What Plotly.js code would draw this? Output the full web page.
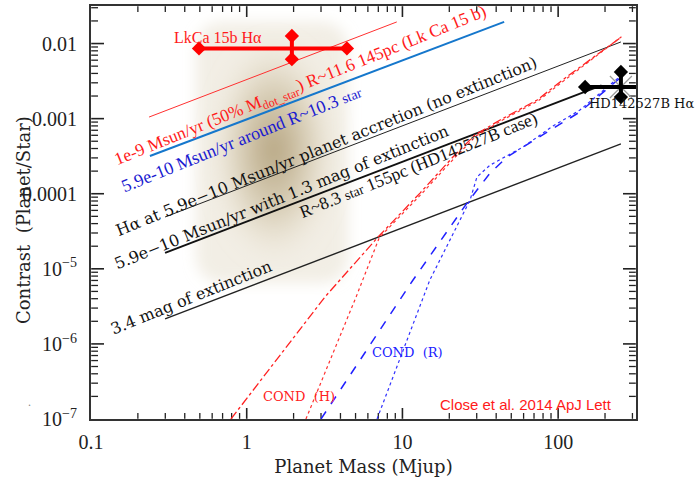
<!DOCTYPE html>
<html>
<head>
<meta charset="utf-8">
<script src="https://cdn.plot.ly/plotly-3.0.1.min.js"></script>
<style>html,body{margin:0;padding:0;background:#fff;}#chart{width:695px;height:478px;}</style>
</head>
<body>
<div id="chart"></div>
<script>
// ---- data ----
const massTickVals = [0.1, 1, 10, 100];
const massTickText = ['0.1', '1', '10', '100'];
const contrastTickVals = [1e-2, 1e-3, 1e-4, 1e-5, 1e-6, 1e-7];
const contrastTickText = ['0.01', '0.001', '0.0001', '10<sup>−5</sup>', '10<sup>−6</sup>', '10<sup>−7</sup>'];

// straight accretion-rate lines
const acc1e9Mass = [0.236, 9.2];
const acc1e9Contrast = [0.00105, 0.0194];
const acc59Mass = [0.239, 45];
const acc59Contrast = [0.000318, 0.0194];
const haNoExtMass = [0.299, 253];
const haNoExtContrast = [4.9e-5, 0.0105];
const ext13Mass = [0.299, 190];
const ext13Contrast = [1.63e-5, 2.77e-3];
const ext34Mass = [0.299, 253];
const ext34Contrast = [2.15e-6, 4.6e-4];

// COND model curves
const condHDashMass = [0.792, 3.18, 6.97, 12.97, 21.1, 29.2, 42.4, 73.3, 111, 250];
const condHDashContrast = [1e-7, 4.22e-6, 2.65e-5, 1.02e-4, 3.08e-4, 6.05e-4, 9.6e-4, 1.77e-3, 3.48e-3, 0.0119];
const condHDotMass = [2.40, 5.04, 7.1, 13.3, 21.6, 29.8, 43.2, 74.5, 113, 255];
const condHDotContrast = [1e-7, 4.22e-6, 2.6e-5, 1.0e-4, 3.0e-4, 5.9e-4, 9.4e-4, 1.73e-3, 3.4e-3, 0.0123];
const condRDashMass = [3.0, 11.7, 26.0, 36.6, 47.0, 92.7, 138, 250];
const condRDashContrast = [1e-7, 7.1e-6, 7.53e-5, 1.89e-4, 3.08e-4, 7.5e-4, 1.23e-3, 3.48e-3];
const condRDotMass = [6.87, 15.0, 27.2, 30.1, 36.6, 47.0, 59.6, 92.7, 138, 243];
const condRDotContrast = [1e-7, 7.1e-6, 8.26e-5, 1.67e-4, 2.41e-4, 3.18e-4, 4.2e-4, 7.98e-4, 1.30e-3, 3.48e-3];

// measured points with error ranges
const lkcaMass = 1.95, lkcaMassLo = 0.494, lkcaMassHi = 4.4;
const lkcaContrast = 0.0086, lkcaContrastLo = 0.0062, lkcaContrastHi = 0.0126;
const hdMass = 253, hdMassLo = 149, hdMassHi = 336;
const hdContrast = 0.00264, hdContrastLo = 0.00194, hdContrastHi = 0.00418;

// axis ranges (log10)
const massRange = [-1, 2.5];
const contrastRange = [-7, -1.5];

// ---- plot-area geometry (pixels) ----
const L = 91, R = 636, T = 6, B = 419;
function px(x) { return (x - L) / (R - L); }
function py(y) { return (B - y) / (B - T); }
const xDecPerPx = (massRange[1] - massRange[0]) / (R - L);
const yDecPerPx = (contrastRange[1] - contrastRange[0]) / (B - T);

// minor tick positions (2..9 per decade) inside a log range
function minorVals(range) {
  const out = [];
  for (let e = Math.floor(range[0]); e <= Math.ceil(range[1]); e++)
    for (let m = 2; m <= 9; m++) {
      const v = m * Math.pow(10, e), lv = Math.log10(v);
      if (lv > range[0] && lv < range[1]) out.push(v);
    }
  return out;
}

// inward tick marks on all four sides, one small trace per tick on the axes' own scales
const edgeInset = 0.2; // px, keeps the segment start inside the plot area
function xTickTraces(vals, lenPx, w) {
  const out = [];
  const d0 = edgeInset * yDecPerPx, d = lenPx * yDecPerPx;
  vals.forEach(v => {
    out.push({x: [v, v], y: [Math.pow(10, contrastRange[0] + d0), Math.pow(10, contrastRange[0] + d)]});
    out.push({x: [v, v], y: [Math.pow(10, contrastRange[1] - d0), Math.pow(10, contrastRange[1] - d)]});
  });
  return out.map(t => Object.assign(t, {type: 'scatter', mode: 'lines', showlegend: false, hoverinfo: 'skip',
    line: {color: '#222', width: w, simplify: false}, cliponaxis: false}));
}
function yTickTraces(vals, lenPx, w) {
  const out = [];
  const d0 = edgeInset * xDecPerPx, d = lenPx * xDecPerPx;
  vals.forEach(v => {
    out.push({y: [v, v], x: [Math.pow(10, massRange[0] + d0), Math.pow(10, massRange[0] + d)]});
    out.push({y: [v, v], x: [Math.pow(10, massRange[1] - d0), Math.pow(10, massRange[1] - d)]});
  });
  return out.map(t => Object.assign(t, {type: 'scatter', mode: 'lines', showlegend: false, hoverinfo: 'skip',
    line: {color: '#222', width: w, simplify: false}, cliponaxis: false}));
}

function line(x, y, color, width, dash) {
  return {x: x, y: y, type: 'scatter', mode: 'lines', hoverinfo: 'skip',
          line: {color: color, width: width, dash: dash || 'solid'}, showlegend: false};
}
function cross(xc, xlo, xhi, yc, ylo, yhi, color) {
  const mk = {symbol: 'diamond', size: 11, color: color};
  return [
    {x: [xlo, xhi], y: [yc, yc], type: 'scatter', mode: 'lines', line: {color: color, width: 4},
     showlegend: false, hoverinfo: 'skip'},
    {x: [xc, xc], y: [ylo, yhi], type: 'scatter', mode: 'lines', line: {color: color, width: 4},
     showlegend: false, hoverinfo: 'skip'},
    {x: [xlo, xhi, xc, xc], y: [yc, yc, ylo, yhi], type: 'scatter', mode: 'markers', marker: mk,
     showlegend: false, cliponaxis: false, hoverinfo: 'skip'}
  ];
}

const traces = [
  ...xTickTraces(minorVals(massRange), 6, 1.3),
  ...xTickTraces(massTickVals.slice(1), 11, 1.6),
  ...yTickTraces(minorVals(contrastRange), 7, 1.3),
  ...yTickTraces(contrastTickVals.slice(0, -1), 13, 1.6),
  line(acc1e9Mass, acc1e9Contrast, '#ff3030', 1),
  line(acc59Mass, acc59Contrast, '#1577cc', 2),
  line(haNoExtMass, haNoExtContrast, '#222', 1),
  line(ext13Mass, ext13Contrast, '#111', 2),
  line(ext34Mass, ext34Contrast, '#222', 1.4),
  line(condHDashMass, condHDashContrast, '#ff2020', 1.3, 'dashdot'),
  line(condHDotMass, condHDotContrast, '#ff3030', 1.2, 'dot'),
  line(condRDashMass, condRDashContrast, '#2020ff', 1.5, 'dash'),
  line(condRDotMass, condRDotContrast, '#3030ff', 1.2, 'dot'),
  ...cross(lkcaMass, lkcaMassLo, lkcaMassHi, lkcaContrast, lkcaContrastLo, lkcaContrastHi, '#ff0000'),
  {x: [hdMass], y: [hdContrast], type: 'scatter', mode: 'markers', showlegend: false, cliponaxis: false,
   hoverinfo: 'skip', marker: {symbol: 'x-thin', size: 22, line: {color: '#9a9a9a', width: 1.2}}},
  ...cross(hdMass, hdMassLo, hdMassHi, hdContrast, hdContrastLo, hdContrastHi, '#000000')
];

const blob = "<svg xmlns='http://www.w3.org/2000/svg' width='180' height='285' viewBox='0 0 180 285'>" +
  "<defs>" +
  "<radialGradient id='g' cx='0.5' cy='0.5' r='0.5'>" +
  "<stop offset='0' stop-color='rgb(170,150,110)' stop-opacity='0.9'/>" +
  "<stop offset='0.55' stop-color='rgb(195,180,145)' stop-opacity='0.55'/>" +
  "<stop offset='1' stop-color='rgb(225,215,190)' stop-opacity='0'/>" +
  "</radialGradient>" +
  "<filter id='b1' x='-20%' y='-20%' width='140%' height='140%'><feGaussianBlur stdDeviation='7'/></filter>" +
  "<filter id='b2' x='-30%' y='-30%' width='160%' height='160%'><feGaussianBlur stdDeviation='11'/></filter>" +
  "</defs>" +
  "<rect x='14' y='12' width='152' height='261' rx='26' fill='rgb(230,222,203)' fill-opacity='0.5' filter='url(#b1)'/>" +
  "<ellipse cx='92' cy='140' rx='62' ry='112' fill='url(#g)' filter='url(#b2)'/>" +
  "</svg>";

const serif = 'Liberation Serif, Times New Roman, serif';
const dserif = 'DejaVu Serif, serif';

function ann(text, x, y, size, color, family, angle) {
  return {text: text, xref: 'paper', yref: 'paper', x: px(x), y: py(y), showarrow: false,
          xanchor: 'center', yanchor: 'middle', textangle: angle || 0,
          font: {size: size, color: color, family: family}};
}

const annotations = [
  ann('1e-9 Msun/yr (50% M<sub>dot_star</sub>) R~11.6 145pc (Lk Ca 15 b)', 300, 86, 17.5, '#ff1a1a', serif, -22),
  ann('5.9e-10 Msun/yr around R~10.3 <span style="font-size:14px">star</span>', 241, 139, 18, '#1a1ad0', serif, -22),
  ann('Hα at 5.9e−10 Msun/yr planet accretion (no extinction)', 326, 146, 16, '#111', dserif, -22),
  ann('5.9e−10 Msun/yr with 1.3 mag of extinction', 281, 197, 16, '#111', dserif, -22),
  ann('R~8.3 <span style="font-size:14px">star</span> 155pc (HD142527B case)', 418, 165, 17.5, '#111', serif, -22),
  ann('3.4 mag of extinction', 191, 297, 16, '#111', dserif, -22),
  ann('LkCa 15b Hα', 218, 37, 16, '#ff1a1a', serif, 0),
  ann('HD142527B Hα', 642, 103, 13, '#111', dserif, 0),
  ann('COND  (H)', 299, 396, 13, '#ff2020', dserif, 0),
  ann('COND  (R)', 407, 352, 13, '#2020ff', dserif, 0),
  ann('Close et al. 2014 ApJ Lett', 526, 404, 15, '#ff1a1a', 'Liberation Sans, Arial, sans-serif', 0),
  ann('Contrast  (Planet/Star)', 23, 220, 18, '#222', dserif, -90),
  ann('.', 29, 402, 12, '#888', serif, 0),
  // right-hand end cap of the HD142527B mass range lies past the axis edge
  {text: '◆', xref: 'x', yref: 'y', x: Math.log10(hdMassHi), y: Math.log10(hdContrast), showarrow: false,
   xanchor: 'center', yanchor: 'middle', font: {size: 13, color: '#000', family: 'DejaVu Sans, sans-serif'}}
];

const axisBase = {
  type: 'log', showgrid: false, zeroline: false, showline: true, linecolor: '#333', linewidth: 2,
  mirror: true, ticks: '', tickfont: {family: serif, size: 20, color: '#222'}
};

const layout = {
  width: 695, height: 478,
  margin: {l: L, r: 695 - R, t: T, b: 478 - B, pad: 0},
  paper_bgcolor: '#ffffff', plot_bgcolor: 'rgba(0,0,0,0)',
  showlegend: false,
  xaxis: Object.assign({}, axisBase, {
    range: massRange, tickmode: 'array', tickvals: massTickVals, ticktext: massTickText,
    ticklabelstandoff: 4,
    title: {text: 'Planet Mass (Mjup)', font: {family: dserif, size: 18, color: '#222'}, standoff: 8}
  }),
  yaxis: Object.assign({}, axisBase, {
    range: contrastRange, tickmode: 'array', tickvals: contrastTickVals, ticktext: contrastTickText,
    ticklabelstandoff: 8
  }),
  images: [{source: 'data:image/svg+xml;charset=utf-8,' + encodeURIComponent(blob),
            xref: 'x domain', yref: 'y domain', x: px(182), y: py(10), sizex: (362 - 182) / (R - L),
            sizey: (295 - 10) / (B - T), sizing: 'stretch', layer: 'below', xanchor: 'left', yanchor: 'top'}],
  annotations: annotations
};

Plotly.newPlot('chart', traces, layout, {staticPlot: true, displayModeBar: false});
</script>
</body>
</html>
